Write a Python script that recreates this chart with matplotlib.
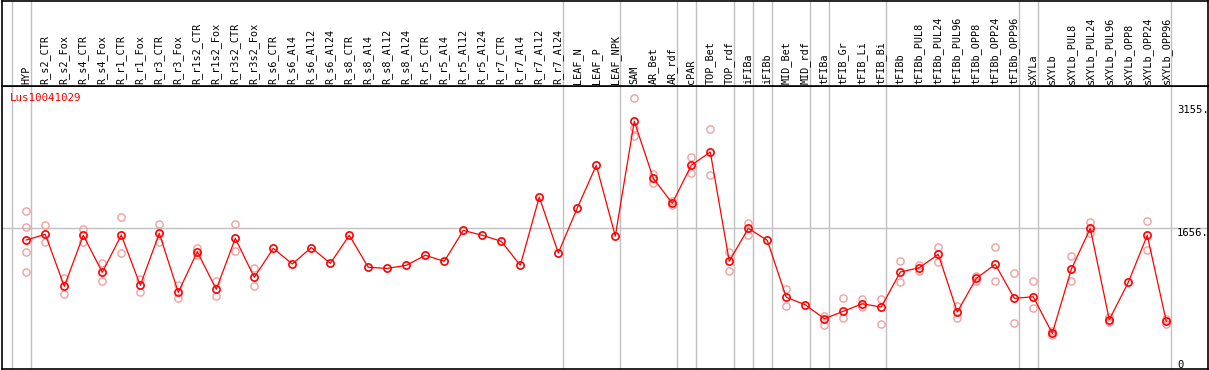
import matplotlib
matplotlib.use("Agg")
import matplotlib.pyplot as plt
from matplotlib.transforms import blended_transform_factory

# column names, in plot order
samples = ["HYP", "R_s2_CTR", "R_s2_Fox", "R_s4_CTR", "R_s4_Fox", "R_r1_CTR", "R_r1_Fox",
           "R_r3_CTR", "R_r3_Fox", "R_r1s2_CTR", "R_r1s2_Fox", "R_r3s2_CTR", "R_r3s2_Fox",
           "R_s6_CTR", "R_s6_Al4", "R_s6_Al12", "R_s6_Al24", "R_s8_CTR", "R_s8_Al4",
           "R_s8_Al12", "R_s8_Al24", "R_r5_CTR", "R_r5_Al4", "R_r5_Al12", "R_r5_Al24",
           "R_r7_CTR", "R_r7_Al4", "R_r7_Al12", "R_r7_Al24", "LEAF_N", "LEAF_P", "LEAF_NPK",
           "SAM", "AR_Bet", "AR_rdf", "cPAR", "TOP_Bet", "TOP_rdf", "iFIBa", "iFIBb",
           "MID_Bet", "MID_rdf", "tFIBa", "tFIB_Gr", "tFIB_Li", "tFIB_Bi", "tFIBb",
           "tFIBb_PUL8", "tFIBb_PUL24", "tFIBb_PUL96", "tFIBb_OPP8", "tFIBb_OPP24",
           "tFIBb_OPP96", "sXYLa", "sXYLb", "sXYLb_PUL8", "sXYLb_PUL24", "sXYLb_PUL96",
           "sXYLb_OPP8", "sXYLb_OPP24", "sXYLb_OPP96"]

# mean expression per sample
means = [1514, 1583, 951, 1571, 1121, 1574, 963, 1595, 878, 1371, 914, 1534, 1060,
         1413, 1222, 1422, 1230, 1571, 1182, 1169, 1206, 1328, 1255, 1631, 1571,
         1498, 1206, 2036, 1356, 1903, 2422, 1562,
         2957, 2264, 1960, 2422, 2583, 1255, 1656, 1510,
         817, 727, 557, 647, 739, 699, 1125,
         1177, 1340, 638, 1048, 1218, 805, 824, 379, 1157, 1656, 545, 999, 1571, 525]

# individual replicates (empty where only one value)
reps = [[1862, 1668, 1364, 1121], [1696, 1486], [1048, 853], [1647, 1486], [1230, 1011],
        [1790, 1352], [1039, 885], [1708, 1486], [963, 805], [1420, 1331], [1015, 829],
        [1704, 1376], [1169, 958],
        [], [], [], [], [], [], [], [], [], [], [], [], [], [], [], [], [], [], [],
        [3236, 2871, 2778], [2320, 2210], [1985, 1940], [2519, 2324], [2859, 2300],
        [1368, 1133], [1724, 1580], [],
        [918, 715], [], [590, 484], [805, 562], [793, 699], [793, 496], [1255, 999],
        [1210, 1137], [1428, 1242], [711, 562], [1076, 1019], [1425, 1011], [1109, 501],
        [1011, 687], [359, 407], [1315, 1011], [1729, 1595], [581, 520], [],
        [1748, 1392], [549, 492]]

# last sample index of each tissue group
group_ends = [-1, 0, 28, 31, 34, 35, 37, 38, 39, 41, 42, 45, 52, 53, 60]
yticks = [3155, 1656, 0]
gene = "Lus10041029"

mono = "DejaVu Sans Mono"
W, H = 1209, 370
fig = plt.figure(figsize=(W / 100, H / 100), dpi=100)

left = 1.5 / W
width = (1207.5 - 1.5) / W
ax = fig.add_axes([left, 1.5 / H, width, 283 / H])
hx = fig.add_axes([left, (H - 85.5) / H, width, 84.5 / H], sharex=ax)

x = list(range(len(samples)))
ax.set_xlim(-1.305, 62.17)
ax.set_ylim(-48, 3392)
hx.set_ylim(0, 1)

for a in (ax, hx):
    a.set_xticks([])
    a.set_yticks([])
    for s in a.spines.values():
        s.set_color("black")
        s.set_linewidth(1.2)
    for g in group_ends:
        a.axvline(g + 0.23, color="#c0c0c0", lw=1, zorder=0)

ax.axhline(1656, color="#c0c0c0", lw=1, zorder=0)

# replicate points
for i, r in enumerate(reps):
    if r:
        ax.plot([i] * len(r), r, "o", ms=5.2, mfc="none", mec="#f0a0a0", mew=1.0, zorder=2)

ax.plot(x, means, "-", color="red", lw=0.9, zorder=3)
ax.plot(x, means, "o", ms=5.2, mfc="none", mec="red", mew=1.2, zorder=4)

for i, name in enumerate(samples):
    hx.text(i, 0.02, name, rotation=90, ha="center", va="bottom",
            fontsize=7.3, family=mono, color="black")

tr = blended_transform_factory(ax.transAxes, ax.transData)
for v in yticks:
    lab = str(v) if v == 0 else f"{v}."
    ax.text((1177 - 1.5) / 1206, v, lab, transform=tr, ha="left",
            va="center" if v == 0 else "top", fontsize=7.6, family=mono)

ax.text(8 / 1206, 0.975, gene, transform=ax.transAxes, ha="left", va="top",
        fontsize=7.8, family=mono, color="red")

fig.savefig("out.png", dpi=100)
